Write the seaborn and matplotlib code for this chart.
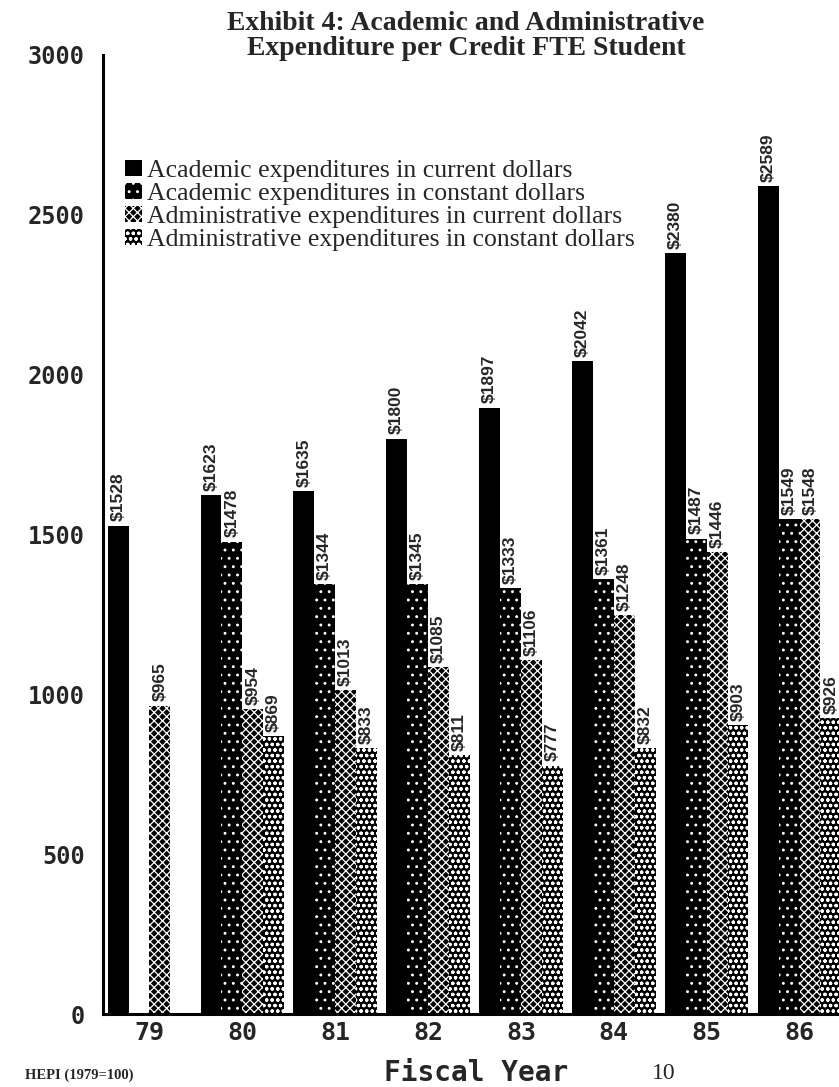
import matplotlib
matplotlib.use("Agg")
import matplotlib.pyplot as plt
from matplotlib.patches import Patch
import numpy as np
import pandas as pd
import seaborn as sns

# ---- data -------------------------------------------------------------
years = ["79", "80", "81", "82", "83", "84", "85", "86"]
series = [
    "Academic expenditures in current dollars",
    "Academic expenditures in constant dollars",
    "Administrative expenditures in current dollars",
    "Administrative expenditures in constant dollars",
]
acad_current = [1528, 1623, 1635, 1800, 1897, 2042, 2380, 2589]
acad_constant = [None, 1478, 1344, 1345, 1333, 1361, 1487, 1549]
admin_current = [965, 954, 1013, 1085, 1106, 1248, 1446, 1548]
admin_constant = [None, 869, 833, 811, 777, 832, 903, 926]
y_ticks = [0, 500, 1000, 1500, 2000, 2500, 3000]

rows = []
for name, vals in zip(series, [acad_current, acad_constant, admin_current, admin_constant]):
    for yr, v in zip(years, vals):
        if v is not None:
            rows.append({"year": yr, "series": name, "value": v})
df = pd.DataFrame(rows)

# ---- styling ----------------------------------------------------------
sns.set_style("white")
plt.rcParams["hatch.linewidth"] = 0.9

W, H = 839, 1087
fig = plt.figure(figsize=(W / 100, H / 100), dpi=100)
x0, x1 = 103, 846          # axis span in pixels (right part runs past the page)
y_zero, y_top = 1014, 55   # pixel rows of 0 and 3000
ax = fig.add_axes([x0 / W, (H - y_zero) / H, (x1 - x0) / W, (y_zero - y_top) / H])

sns.barplot(data=df, x="year", y="value", hue="series", order=years,
            hue_order=series, palette=["black"] * 4, width=0.9,
            errorbar=None, legend=False, ax=ax, saturation=1)

# fill patterns: solid, sparse dots, fine cross-hatch, dense circles
styles = [None, "..", "xxxx", "ooo"]
for cont, hatch in zip(ax.containers, styles):
    for bar in cont:
        bar.set_facecolor("black")
        bar.set_edgecolor("white")
        bar.set_linewidth(0)
        if hatch:
            bar.set_hatch(hatch)
    labels = [f"${v:.0f}" for v in cont.datavalues]
    texts = ax.bar_label(cont, labels=labels, rotation=90, padding=3,
                         fontsize=12.5, fontweight="bold",
                         family=["Liberation Sans", "DejaVu Sans"])
    for t in texts:
        t.set_bbox(dict(facecolor="white", edgecolor="none", pad=0.4))

ax.set_xlim(-0.5, 7.5)
ax.set_ylim(0, 3000)
ax.set_yticks(y_ticks)
ax.set_yticklabels([str(v) for v in y_ticks], family="DejaVu Sans Mono",
                   fontweight="bold", fontsize=17)
ax.set_xticks(np.arange(len(years)) - 0.5, minor=False)
ax.set_xticklabels([])
ax.set_xticks(np.arange(len(years)), minor=True)
ax.set_xticklabels(years, minor=True, family="DejaVu Sans Mono",
                   fontweight="bold", fontsize=18)
ax.tick_params(axis="x", which="minor", length=0, pad=5)
ax.tick_params(axis="x", which="major", direction="inout", length=16, width=1.8)
ax.tick_params(axis="y", direction="inout", length=18, width=1.8, pad=4)
ax.set_xlabel("")
ax.set_ylabel("")
for s in ["top", "right"]:
    ax.spines[s].set_visible(False)
for s in ["left", "bottom"]:
    ax.spines[s].set_linewidth(2.2)
    ax.spines[s].set_color("black")

handles = [Patch(facecolor="black", edgecolor="white", linewidth=0, hatch=h)
           for h in styles]
leg = ax.legend(handles, series, loc="upper left", frameon=False,
                bbox_to_anchor=(125 / W, 1 - 160 / H), bbox_transform=fig.transFigure,
                prop={"family": "Liberation Serif", "size": 18.5},
                handlelength=0.65, handleheight=0.6, handletextpad=0.2,
                labelspacing=0.03, borderpad=0, borderaxespad=0)

fig.text(466 / W, 1 - 36 / H,
         "Exhibit 4: Academic and Administrative\nExpenditure per Credit FTE Student",
         ha="center", va="center", family="Liberation Serif", fontweight="bold",
         fontsize=20, linespacing=1.05)

fig.text(476 / W, 1 - 1081 / H, "Fiscal Year", ha="center", va="baseline",
         family="DejaVu Sans Mono", fontweight="bold", fontsize=20)
fig.text(25 / W, 1 - 1075 / H, "HEPI (1979=100)", ha="left", va="center",
         family="Liberation Serif", fontweight="bold", fontsize=10.5)
fig.text(652 / W, 1 - 1079 / H, "10", ha="left", va="baseline",
         family="Liberation Serif", fontsize=17)

fig.savefig("out.png", dpi=100)
